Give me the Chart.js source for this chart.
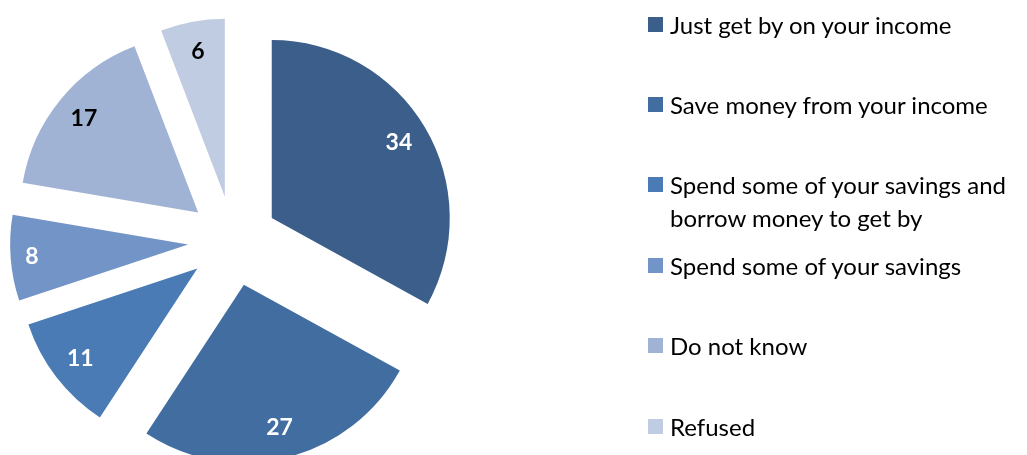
<!DOCTYPE html>
<html>
<head>
<meta charset="utf-8">
<script src="https://cdn.jsdelivr.net/npm/chart.js@4/dist/chart.umd.min.js"></script>
<style>
  body { margin: 0; background: #fff; }
  .wrap { position: relative; width: 1027px; height: 455px; }
  .legend { position: absolute; left: 648px; top: 0; font-family: Lato, sans-serif; font-size: 24px; color: #000; }
  .legend-item { position: absolute; left: 0; width: 376px; line-height: 33px; }
  .legend-item .box { position: absolute; left: 0; top: 9px; width: 15px; height: 15px; }
  .legend-item .txt { margin-left: 22px; width: 354px; }
</style>
</head>
<body>
<div class="wrap">
  <canvas id="myChart"></canvas>
  <div class="legend" id="legend"></div>
</div>
<script>
'use strict';
// категории ответов
const labels = [
  'Just get by on your income',
  'Save money from your income',
  'Spend some of your savings and borrow money to get by',
  'Spend some of your savings',
  'Do not know',
  'Refused'
];
// доли, %
const values = [34, 27, 11, 8, 17, 6];
// цвета секторов
const colors = ['#3B5E8A', '#426DA0', '#4A7BB5', '#7394C6', '#A0B3D4', '#C0CCE2'];
// цвет подписей внутри секторов
const labelColors = ['#fff', '#fff', '#fff', '#fff', '#000', '#000'];

const EXPLODE = 45;   // вынос секторов от центра, px
const RADIUS = 178;

// сдвигаем каждый сектор по его биссектрисе
const explodePlugin = {
  id: 'explode',
  beforeDatasetsDraw(chart) {
    chart.getDatasetMeta(0).data.forEach((arc) => {
      if (arc._exploded) return;
      const baseDraw = arc.draw;
      arc.draw = function (ctx) {
        const mid = (this.startAngle + this.endAngle) / 2;
        ctx.save();
        ctx.translate(Math.cos(mid) * EXPLODE, Math.sin(mid) * EXPLODE);
        baseDraw.call(this, ctx);
        ctx.restore();
      };
      arc._exploded = true;
    });
  }
};

// значения внутри секторов
const valueLabels = {
  id: 'valueLabels',
  afterDatasetsDraw(chart) {
    const ctx = chart.ctx;
    ctx.save();
    ctx.font = 'bold 23px Lato, sans-serif';
    ctx.textAlign = 'center';
    ctx.textBaseline = 'middle';
    chart.getDatasetMeta(0).data.forEach((arc, i) => {
      const mid = (arc.startAngle + arc.endAngle) / 2;
      // узкий сектор — подпись чуть ближе к краю
      const k = values[i] < 10 && values[i] > 6 ? 0.88 : 0.83;
      const r = EXPLODE + arc.outerRadius * k;
      ctx.fillStyle = labelColors[i];
      ctx.fillText(values[i], arc.x + Math.cos(mid) * r, arc.y + Math.sin(mid) * r);
    });
    ctx.restore();
  }
};

const ctx = document.getElementById('myChart').getContext('2d');
ctx.canvas.parentNode.style.height = '455px';
ctx.canvas.parentNode.style.width = '1027px';

const chart = new Chart(ctx, {
  type: 'pie',
  data: {
    labels: labels,
    datasets: [{
      data: values,
      backgroundColor: colors,
      borderWidth: 0,
      radius: RADIUS
    }]
  },
  options: {
    responsive: true,
    maintainAspectRatio: false,
    animation: false,
    layout: {
      padding: { left: 0, right: 561, top: 27, bottom: 0 }
    },
    plugins: {
      legend: { display: false },
      tooltip: { enabled: false }
    }
  },
  plugins: [explodePlugin, valueLabels]
});

// легенда справа
const legend = document.getElementById('legend');
labels.forEach((text, i) => {
  const item = document.createElement('div');
  item.className = 'legend-item';
  item.style.top = (24 + i * 80.4 - 16.5) + 'px';
  item.innerHTML = '<span class="box" style="background:' + colors[i] + '"></span><div class="txt">' + text + '</div>';
  legend.appendChild(item);
});
</script>
</body>
</html>
